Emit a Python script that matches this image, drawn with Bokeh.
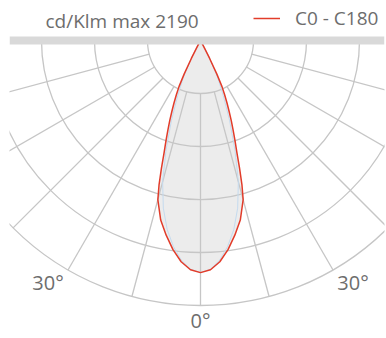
import numpy as np
from bokeh.plotting import figure
from bokeh.models import Range1d, Label, Legend, LegendItem, Span
from bokeh.core.properties import value
from bokeh.embed import file_html
from bokeh.resources import INLINE

# ---- data (cd/klm) ----
max_val = 2190
unit = "cd/Klm"
gamma = [0, 2.5, 5, 7.5, 10, 12.5, 15, 16, 17, 18, 19, 20, 21, 22, 23, 24, 25, 26, 27, 28, 30, 32.5, 35, 45, 60, 75, 90]
c0 = [2190, 2165, 2095, 1990, 1865, 1735, 1555, 1420, 1260, 1110, 1000, 900, 810, 720, 640, 560, 480, 350, 190, 70, 10, 0, 0, 0, 0, 0, 0]
c180 = [2190, 2165, 2095, 1990, 1865, 1735, 1555, 1420, 1260, 1110, 1000, 900, 810, 720, 640, 560, 480, 350, 190, 70, 10, 0, 0, 0, 0, 0, 0]
gamma_b = [0, 2.5, 5, 7.5, 10, 12.5, 15, 17.5, 20, 22.5, 25, 27.5, 30, 32.5, 35, 45, 60, 75, 90]
c90 = [2190, 2160, 2080, 1960, 1810, 1620, 1380, 1080, 800, 560, 380, 170, 40, 0, 0, 0, 0, 0, 0]
c270 = [2190, 2160, 2080, 1960, 1810, 1620, 1380, 1080, 800, 560, 380, 170, 40, 0, 0, 0, 0, 0, 0]
rings = [500, 1000, 1500, 2000, 2500]
spokes = [-75, -60, -45, -30, -15, 0, 15, 30, 45, 60, 75]
angle_labels = ["30°", "0°", "30°"]
angle_label_pos = [-30, 0, 30]
legend_label = "C0 - C180"

# ---- geometry / style ----
W, H = 386, 338
BL, BR = 9, 2          # frame borders (px)
FW = W - BL - BR
S = 0.106              # px per cd/klm
cx, cy = 200 - BL, 40  # centre in px from top-left of the frame
GRID = "#c6c6c6"
TXT = "#6d6d6d"
FONT = "Open Sans"


def polar(g, v):
    t = np.radians(np.asarray(g, dtype=float))
    v = np.asarray(v, dtype=float)
    return v * np.sin(t), -v * np.cos(t)


def full_curve(g, right, left):
    g = np.array(g, dtype=float)
    xr, yr = polar(g, right)
    xl, yl = polar(-g, left)
    return np.concatenate([xl[::-1], xr[1:]]), np.concatenate([yl[::-1], yr[1:]])


p = figure(width=W, height=H,
           x_range=Range1d(-cx / S, (FW - cx) / S),
           y_range=Range1d(-(H - cy) / S, cy / S),
           x_axis_type=None, y_axis_type=None,
           output_backend="svg", toolbar_location=None,
           min_border_left=BL, min_border_right=BR,
           min_border_top=0, min_border_bottom=0)
p.grid.visible = False
p.outline_line_color = None
p.background_fill_color = "white"
p.border_fill_color = "white"

# grey fill of the distribution
fx, fy = full_curve(gamma, c0, c180)
p.patch(fx, fy, fill_color="#ececec", line_color=None)

# polar grid
p.arc(x=0, y=0, radius=rings, start_angle=np.pi, end_angle=2 * np.pi,
      direction="anticlock", line_color=GRID, line_width=1.3)
sx0, sy0 = polar(spokes, [rings[0]] * len(spokes))
sx1, sy1 = polar(spokes, [rings[-1]] * len(spokes))
p.segment(x0=sx0, y0=sy0, x1=sx1, y1=sy1, line_color=GRID, line_width=1.3)

# C90-C270 (faint)
bx, by = full_curve(gamma_b, c90, c270)
p.line(bx, by, line_color="#c5dbef", line_width=1)

# C0-C180
rx, ry = full_curve(gamma, c0, c180)
red = p.line(rx, ry, line_color="#e23c2a", line_width=1.5)

# top bar
p.add_layout(Span(location=0, dimension="width", line_color="#d9d9d9", line_width=8))

# angle labels
lx, ly = polar(angle_label_pos, [rings[-1]] * len(angle_label_pos))
t = np.radians(angle_label_pos)
p.text(x=lx, y=ly, text=angle_labels,
       x_offset=list(40 * np.sin(t)), y_offset=list(15 * np.cos(t)),
       text_align="center", text_baseline="middle",
       text_font=value(FONT), text_font_size="20px", text_color=TXT)

# header
p.add_layout(Label(x=45 - BL, y=H - 20, x_units="screen", y_units="screen",
                   text=f"{unit} max {max_val}", text_font=FONT,
                   text_font_size="19px", text_color=TXT, text_baseline="middle"))

legend = Legend(items=[LegendItem(label=legend_label, renderers=[red])],
                location=(253 - BL, H - 31), orientation="horizontal",
                padding=0, margin=0, spacing=0,
                border_line_color=None, background_fill_alpha=0,
                glyph_width=27, glyph_height=20, label_height=20,
                label_standoff=15, label_text_font=FONT,
                label_text_font_size="19px", label_text_color=TXT)
p.add_layout(legend)

open("out.html", "w").write(file_html(p, INLINE))
